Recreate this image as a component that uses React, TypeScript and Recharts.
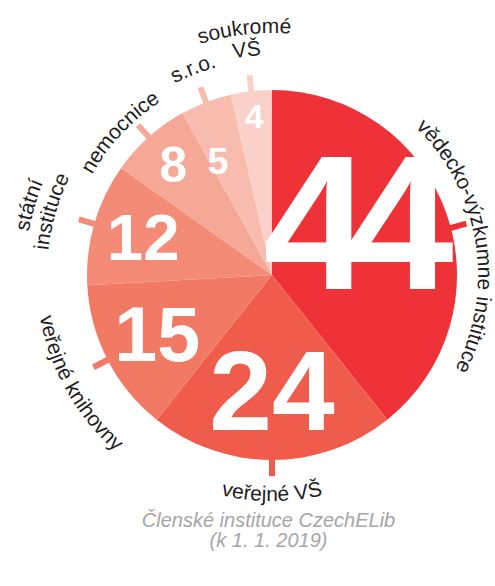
import React from "react";
import { PieChart, Pie, Cell } from "recharts";

// categories (multi-line labels split into lines)
const categories: string[][] = [
  ["vědecko-výzkumne instituce"],
  ["veřejné VŠ"],
  ["veřejné knihovny"],
  ["státní", "instituce"],
  ["nemocnice"],
  ["s.r.o."],
  ["soukromé", "VŠ"],
];
const counts = [44, 24, 15, 12, 8, 5, 4];
const captionLines = ["Členské instituce CzechELib", "(k 1. 1. 2019)"];

const colors = ["#EE3237", "#F05C4C", "#F27A64", "#F38B76", "#F6A897", "#F8BCAF", "#FAD1C8"];

const data = categories.map((lines, i) => ({ name: lines.join(" "), lines, value: counts[i] }));

const RAD = Math.PI / 180;
const FONT = "'Liberation Sans', Arial, sans-serif";
const LABEL_SIZE = 21;

function pt(cx: number, cy: number, r: number, a: number) {
  return [cx + r * Math.cos(-a * RAD), cy + r * Math.sin(-a * RAD)];
}

function arc(cx: number, cy: number, r: number, mid: number, clockwise: boolean) {
  const span = 170;
  const a1 = clockwise ? mid + span / 2 : mid - span / 2;
  const a2 = clockwise ? mid - span / 2 : mid + span / 2;
  const [x1, y1] = pt(cx, cy, r, a1);
  const [x2, y2] = pt(cx, cy, r, a2);
  return `M ${x1} ${y1} A ${r} ${r} 0 0 ${clockwise ? 1 : 0} ${x2} ${y2}`;
}

// hand placement tweaks per slice: angles in degrees, r in px, nr = number radius factor, ls = letter spacing (em)
type Nudge = { text?: number; num?: number; tick?: number; r?: number; nr?: number; ls?: number };
const nudge: Record<number, Nudge> = {
  0: { text: -10, num: 15, tick: -4.5, nr: 0.49, ls: -0.12 },
  2: { text: 2, r: 10 },
  3: { r: 9 },
  4: { text: 5, nr: 0.8 },
  5: { r: 9, nr: 0.68, num: 4.5 },
  6: { r: 4, nr: 0.86 },
};

function renderLabel(props: any) {
  const { cx, cy, midAngle, outerRadius, index, value } = props;
  const R = outerRadius;
  const fill = colors[index];
  const lines: string[] = data[index].lines;
  const top = Math.sin(midAngle * RAD) >= 0;
  const n = nudge[index] || {};

  const tickAngle = midAngle + (n.tick || 0);
  const [tx1, ty1] = pt(cx, cy, R - 2, tickAngle);
  const [tx2, ty2] = pt(cx, cy, R + 16, tickAngle);

  const numAngle = midAngle + (n.num || 0);
  const numR = R * (n.nr ?? 0.95 - 0.065 * Math.sqrt(value));
  const fs = 18 + 3.95 * value;
  const [nx, ny] = pt(cx, cy, numR, numAngle);

  const textMid = midAngle + (n.text || 0);
  const base = (top ? R + 21 + (lines.length - 1) * 10 : R + 41) + (n.r || 0);

  return (
    <g key={`lbl-${index}`}>
      <line x1={tx1} y1={ty1} x2={tx2} y2={ty2} stroke={fill} strokeWidth={6} />
      <defs>
        {lines.map((_, j) => {
          const r = top ? base + (lines.length - 1 - j) * 22 : base + j * 22;
          return <path key={j} id={`arc-${index}-${j}`} d={arc(cx, cy, r, textMid, top)} fill="none" />;
        })}
      </defs>
      {lines.map((line, j) => (
        <text key={`t${j}`} fontSize={LABEL_SIZE} fontFamily={FONT} fill="#1e1e1e">
          <textPath href={`#arc-${index}-${j}`} startOffset="50%" textAnchor="middle">
            {line}
          </textPath>
        </text>
      ))}
      <text
        x={nx}
        y={ny + 0.34 * fs}
        textAnchor="middle"
        fontSize={fs}
        fontWeight="bold"
        fontFamily={FONT}
        fill="#ffffff"
        letterSpacing={(n.ls ?? 0) * fs}
      >
        {value}
      </text>
    </g>
  );
}

export default function App() {
  return (
    <div style={{ position: "absolute", left: 0, top: 0, width: 495, height: 586, background: "#fff" }}>
      <PieChart width={495} height={586}>
        <Pie
          data={data}
          dataKey="value"
          nameKey="name"
          cx={267}
          cy={270}
          outerRadius={185}
          startAngle={90}
          endAngle={-270}
          stroke="none"
          label={renderLabel}
          labelLine={false}
          isAnimationActive={false}
        >
          {data.map((d, i) => (
            <Cell key={d.name} fill={colors[i]} stroke="none" />
          ))}
        </Pie>
      </PieChart>
      <div
        style={{
          position: "absolute",
          left: 0,
          top: 510,
          width: 537,
          textAlign: "center",
          fontFamily: FONT,
          fontStyle: "italic",
          fontSize: 20,
          lineHeight: "20px",
          color: "#a6a6a6",
        }}
      >
        {captionLines.map((l) => (
          <div key={l}>{l}</div>
        ))}
      </div>
    </div>
  );
}
